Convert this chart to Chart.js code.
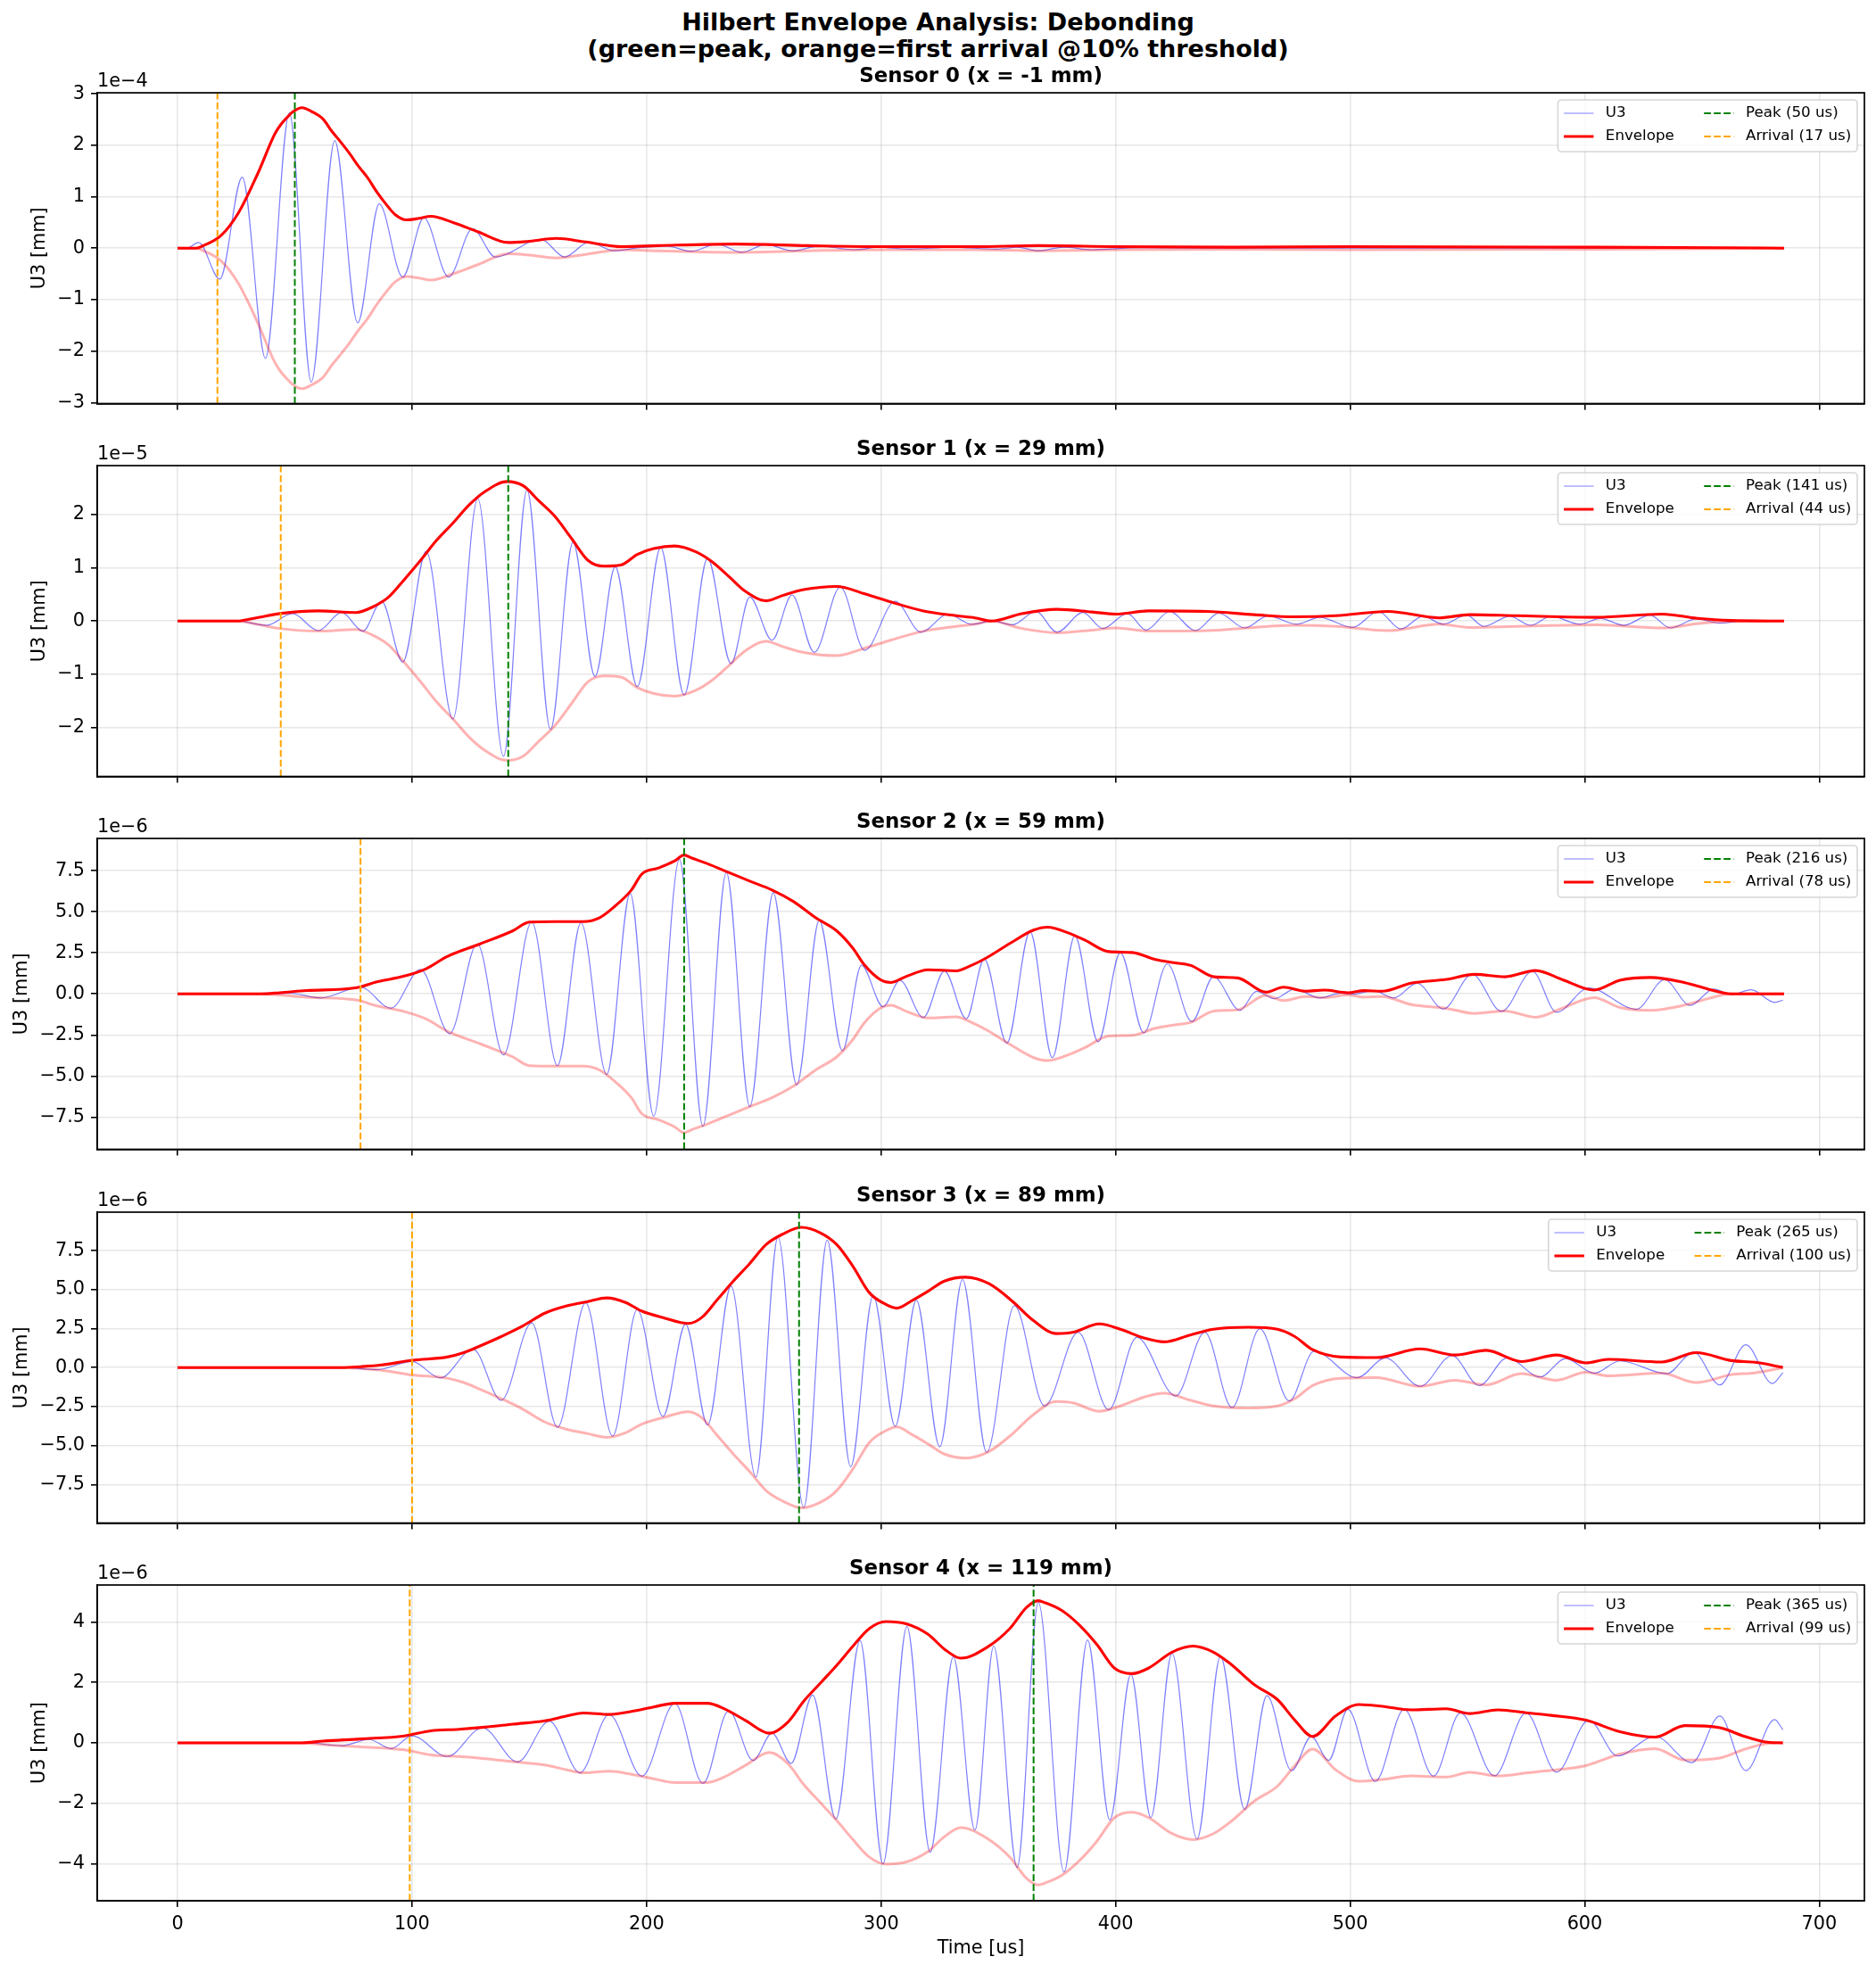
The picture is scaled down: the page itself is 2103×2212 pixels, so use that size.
<!DOCTYPE html>
<html>
<head>
<meta charset="utf-8">
<title>Hilbert Envelope Analysis: Debonding</title>
<script src="https://cdn.jsdelivr.net/npm/chart.js@4.4.1/dist/chart.umd.min.js"></script>
<style>
  html, body { margin: 0; padding: 0; background: #fff; }
  #fig { position: relative; width: 2103px; height: 2212px; overflow: hidden; background: #fff; }
  #suptitle {
    position: absolute; left: 0; top: 10px; width: 2103px; text-align: center;
    font-family: "DejaVu Sans", sans-serif; font-weight: bold; font-size: 27px; line-height: 30px; color: #000;
  }
  canvas { position: absolute; left: 0; }
</style>
</head>
<body>
<div id="fig">
  <div id="suptitle">Hilbert Envelope Analysis: Debonding<br>(green=peak, orange=first arrival @10% threshold)</div>
</div>
<script>
// ── Data (U3 in units of the axis offset) ──────────────────────────────

const xTicks = [0, 100, 200, 300, 400, 500, 600, 700];

const sensorNames  = ["Sensor 0 (x = -1 mm)", "Sensor 1 (x = 29 mm)", "Sensor 2 (x = 59 mm)",
                      "Sensor 3 (x = 89 mm)", "Sensor 4 (x = 119 mm)"];
const offsetTexts  = ["1e\u22124", "1e\u22125", "1e\u22126", "1e\u22126", "1e\u22126"];
const peakTimes    = [50, 141, 216, 265, 365];
const arrivalTimes = [17, 44, 78, 100, 99];
const yLimits      = [3.02, 2.92, 9.46, 9.97, 5.22];

const yTicks0 = [-3, -2, -1, 0, 1, 2, 3];
const yTicks1 = [-2, -1, 0, 1, 2];
const yTicks2 = [-7.5, -5, -2.5, 0, 2.5, 5, 7.5];
const yTicks3 = [-7.5, -5, -2.5, 0, 2.5, 5, 7.5];
const yTicks4 = [-4, -2, 0, 2, 4];
const yLabels0 = ["\u22123", "\u22122", "\u22121", "0", "1", "2", "3"];
const yLabels1 = ["\u22122", "\u22121", "0", "1", "2"];
const yLabels2 = ["\u22127.5", "\u22125.0", "\u22122.5", "0.0", "2.5", "5.0", "7.5"];
const yLabels3 = ["\u22127.5", "\u22125.0", "\u22122.5", "0.0", "2.5", "5.0", "7.5"];
const yLabels4 = ["\u22124", "\u22122", "0", "2", "4"];

// Sensor 0
const s0Time = [0, 4, 9, 18, 27.6, 37.5, 47.7, 57, 67, 76.8,
  86, 96, 105, 115.6, 125.8, 135.5, 155, 165, 175.5, 186,
  197, 208.7, 219, 230, 240.6, 250.8, 262, 273.7, 289, 299,
  312, 330, 349, 358, 367, 378, 390, 410, 440, 685];
const s0U3 = [0, 0, 0.11, -0.6, 1.38, -2.14, 2.63, -2.6, 2.09, -1.45,
  0.86, -0.56, 0.59, -0.56, 0.38, -0.17, 0.17, -0.17, 0.12, -0.05,
  0.01, 0.04, -0.06, 0.08, -0.08, 0.07, -0.05, 0.04, -0.03, 0.02,
  -0.02, 0.02, -0.02, 0.02, -0.05, 0.02, -0.03, 0.01, 0, 0];
const s0EnvTime = [0, 8, 11, 18.6, 26, 34, 41.6, 44, 46.7, 49.2,
  53, 57, 62, 65.8, 69.6, 73.5, 77, 81, 85, 88.8,
  92.6, 97.7, 103, 108, 118, 128, 141, 149, 161.5, 174,
  189.5, 205, 238, 268.6, 300, 340, 367, 400, 450, 500,
  600, 660, 685];
const s0Env = [0, 0, 0.05, 0.25, 0.69, 1.43, 2.23, 2.4, 2.54, 2.65,
  2.73, 2.66, 2.51, 2.27, 2.06, 1.83, 1.6, 1.37, 1.09, 0.86,
  0.66, 0.55, 0.58, 0.62, 0.49, 0.32, 0.11, 0.13, 0.19, 0.12,
  0.03, 0.05, 0.08, 0.05, 0.03, 0.03, 0.05, 0.03, 0.02, 0.03,
  0.02, 0.01, 0];

// Sensor 1
const s1Time = [0, 25, 38, 49, 60, 70, 79, 87, 96, 106,
  117.4, 128, 139, 149, 159, 168.6, 178, 186.6, 196, 206,
  216, 226, 236, 244, 253.5, 262, 271.5, 282.6, 293, 306,
  317, 328.5, 338.7, 347.4, 356, 366, 375, 386, 394.5, 405,
  413, 423, 434, 444, 455, 465, 477, 487, 501, 512,
  521.6, 531, 539.7, 549.6, 557, 568, 577, 585.6, 598, 606.7,
  616.6, 627.8, 636.5, 647.6, 657.6, 667.5, 685];
const s1U3 = [0, 0, -0.08, 0.14, -0.18, 0.16, -0.19, 0.37, -0.77, 1.31,
  -1.84, 2.3, -2.54, 2.46, -2.04, 1.48, -1.04, 1.02, -1.23, 1.38,
  -1.39, 1.18, -0.8, 0.45, -0.36, 0.49, -0.59, 0.64, -0.55, 0.37,
  -0.21, 0.13, -0.06, 0.0, -0.07, 0.18, -0.21, 0.16, -0.14, 0.14,
  -0.17, 0.18, -0.18, 0.15, -0.13, 0.10, -0.06, 0.07, -0.12, 0.18,
  -0.15, 0.09, -0.06, 0.11, -0.10, 0.09, -0.08, 0.09, -0.06, 0.05,
  -0.08, 0.11, -0.13, 0.04, -0.04, 0.0, 0];
const s1EnvTime = [0, 25, 27.5, 35, 43.6, 60, 76, 83, 90, 96.7,
  103.6, 110.5, 117.4, 124.3, 131, 140.5, 147.4, 154, 161, 168,
  175, 182, 189, 196, 203, 212, 221, 228, 235, 242,
  251, 258, 267, 281, 293, 304, 318, 332, 340, 347,
  360, 375, 390, 400, 414, 439, 459, 476, 494, 516,
  538, 551, 571, 605, 633, 648, 662, 685];
const s1Env = [0, 0, 0.01, 0.07, 0.14, 0.19, 0.16, 0.26, 0.45, 0.78,
  1.14, 1.52, 1.84, 2.18, 2.43, 2.62, 2.54, 2.26, 1.96, 1.55,
  1.14, 1.03, 1.05, 1.25, 1.36, 1.41, 1.3, 1.11, 0.84, 0.56,
  0.38, 0.48, 0.59, 0.65, 0.51, 0.36, 0.19, 0.1, 0.06, 0.0,
  0.14, 0.22, 0.17, 0.13, 0.19, 0.18, 0.12, 0.08, 0.1, 0.18,
  0.06, 0.12, 0.1, 0.07, 0.13, 0.05, 0.01, 0];

// Sensor 2
const s2Time = [0, 40, 48, 61, 78, 91, 103.6, 116, 127.8, 139,
  151, 162, 172, 183, 193, 203, 214, 224, 234, 244,
  254, 264, 273.6, 283.5, 291.6, 300.8, 308, 318, 327, 336.3,
  344, 353.6, 363.5, 373, 382.6, 392.5, 402, 412, 422, 432.5,
  441.7, 453, 460, 467.7, 476.4, 487, 496, 501, 510, 518.6,
  528.5, 539.7, 552, 564.5, 577.7, 588, 601.7, 622, 634, 645,
  655, 662.5, 671, 681, 684.5];
const s2U3 = [0, 0, 0.04, -0.25, 0.41, -0.87, 1.49, -2.42, 3.04, -3.71,
  4.37, -4.37, 4.33, -4.9, 6.11, -7.44, 8.19, -8.06, 7.39, -6.86,
  6.15, -5.54, 4.46, -3.45, 1.74, -0.78, 0.82, -1.44, 1.39, -1.52,
  2.12, -2.99, 3.79, -3.88, 3.53, -2.91, 2.5, -2.37, 1.82, -1.69,
  1.04, -1.0, 0.16, -0.29, 0.29, -0.25, 0.05, -0.02, 0.2, -0.25,
  0.65, -0.92, 1.19, -1.06, 1.37, -1.12, 0.36, -0.94, 0.86, -0.7,
  0.29, -0.04, 0.25, -0.52, -0.38];
const s2EnvTime = [0, 35, 43.6, 55, 76, 85, 96.7, 106, 115, 129,
  143, 150, 161, 173, 180, 186.6, 193.5, 198, 205, 212,
  216, 219, 226, 235, 244, 253.5, 262.7, 272, 281, 288,
  292.7, 299.6, 304, 311, 320, 332, 338, 345, 355, 365,
  371, 380, 387, 397, 407, 417, 424, 432, 442, 452,
  464, 471.5, 481, 489, 499, 506, 513.6, 526, 541, 553,
  566, 579, 590.6, 604, 615, 628, 642.7, 652.6, 662.5, 685];
const s2Env = [0, 0, 0.07, 0.2, 0.37, 0.73, 1.08, 1.53, 2.27, 3.04,
  3.84, 4.37, 4.4, 4.4, 4.64, 5.35, 6.32, 7.3, 7.66, 8.1,
  8.45, 8.28, 7.92, 7.39, 6.86, 6.32, 5.61, 4.64, 3.84, 2.77,
  1.79, 0.87, 0.69, 1.08, 1.47, 1.4, 1.7, 2.2, 3.08, 3.88,
  4.06, 3.7, 3.26, 2.57, 2.52, 2.09, 1.91, 1.73, 1.04, 0.97,
  0.1, 0.41, 0.16, 0.23, 0.07, 0.2, 0.16, 0.65, 0.88, 1.19,
  1.04, 1.42, 0.86, 0.23, 0.83, 1.0, 0.68, 0.29, 0.0, 0];

// Sensor 3
const s3Time = [0, 70, 85, 100, 112, 126, 138, 151, 162, 174,
  185.5, 196, 207, 216.6, 226, 236, 246.6, 256, 267, 277,
  287, 296.6, 306, 315, 325, 334.7, 345, 356.8, 369.7, 384,
  397, 409, 425.6, 438, 449.6, 461.5, 474, 484.6, 503, 515,
  529.8, 543.4, 555, 567, 581, 591.8, 604, 615, 635, 646.4,
  657.6, 668.7, 680, 684.5];
const s3U3 = [0, 0, -0.13, 0.39, -0.66, 1.18, -2.1, 2.87, -3.83, 4.15,
  -4.39, 3.71, -3.13, 2.78, -3.68, 5.23, -7.02, 8.37, -8.99, 8.18,
  -6.36, 4.62, -3.77, 4.33, -5.08, 5.65, -5.43, 3.97, -2.46, 2.27,
  -2.71, 1.94, -1.82, 2.27, -2.57, 2.5, -2.14, 1.05, -0.65, 0.62,
  -1.2, 0.77, -1.15, 0.62, -0.6, 0.58, -0.36, 0.43, -0.39, 1.0,
  -1.11, 1.47, -1.02, -0.32];
const s3EnvTime = [0, 70, 78, 87, 100, 115, 122, 129, 138, 147,
  156.6, 166, 175, 183, 191, 198, 207, 217.8, 223.5, 230,
  237, 244, 251, 258, 266, 274, 281, 288, 295, 302,
  306.6, 313.5, 320, 327, 336, 346, 356, 364.8, 374.7, 382,
  393, 402, 412, 420.6, 431.8, 441.7, 456.6, 469, 476.4, 484,
  496, 511, 529.8, 544.7, 558, 573, 588, 600.5, 610, 632.8,
  647.6, 662.5, 672.5, 684.5];
const s3Env = [0, 0, 0.06, 0.17, 0.47, 0.68, 0.96, 1.39, 1.99, 2.65,
  3.49, 3.96, 4.24, 4.47, 4.18, 3.62, 3.21, 2.83, 3.21, 4.33,
  5.55, 6.68, 7.9, 8.56, 9.0, 8.65, 7.9, 6.49, 4.8, 4.05,
  3.81, 4.33, 4.9, 5.55, 5.8, 5.38, 4.25, 3.03, 2.18, 2.27,
  2.8, 2.46, 1.9, 1.65, 2.09, 2.46, 2.59, 2.46, 1.99, 1.15,
  0.68, 0.64, 1.2, 0.81, 1.11, 0.39, 0.81, 0.3, 0.53, 0.36,
  0.96, 0.45, 0.34, 0.02];

// Sensor 4
const s4Time = [0, 55, 70, 81.7, 91, 100, 115, 130, 145, 158.5,
  171.6, 184, 198, 212, 224, 235, 245.4, 253.5, 261.6, 270.8,
  280.7, 291, 300.8, 311, 320.9, 330.8, 340, 348, 358, 367,
  378, 388, 397.5, 406.5, 415, 424, 434.7, 444.7, 455, 464.5,
  475, 483.4, 490.8, 499, 510.7, 523, 535.5, 547, 561.5, 575,
  588, 601.7, 614, 630, 645.7, 657.6, 668.7, 681, 684.5];
const s4U3 = [0, 0, -0.09, 0.11, -0.19, 0.23, -0.45, 0.5, -0.63, 0.72,
  -0.99, 0.94, -1.1, 1.31, -1.34, 1.06, -0.58, 0.32, -0.68, 1.58,
  -2.52, 3.39, -4.0, 3.85, -3.62, 2.85, -2.88, 3.2, -4.12, 4.65,
  -4.27, 3.4, -2.55, 2.27, -2.47, 2.96, -3.18, 2.86, -2.2, 1.56,
  -0.92, 0.21, -0.58, 1.11, -1.27, 1.11, -1.1, 0.99, -1.09, 0.99,
  -0.97, 0.75, -0.43, 0.22, -0.65, 0.89, -0.92, 0.77, 0.43];
const s4EnvTime = [0, 53, 62, 78, 96.7, 108, 120, 131, 143, 156.6,
  166, 173, 184, 193.5, 203, 212, 226, 232.8, 242, 252.4,
  260.4, 267, 274, 281, 288, 295, 302, 311, 320, 327,
  334, 345, 355, 362, 367, 370, 377, 384.6, 392, 399.5,
  407, 414, 424, 433, 441.7, 449, 459, 469, 476.4, 484,
  493.8, 503.7, 513.6, 526, 541, 551, 563, 575.7, 585.6, 600.5,
  615, 630, 642.7, 657.6, 667.5, 677, 684.5];
const s4Env = [0, 0, 0.06, 0.13, 0.23, 0.4, 0.45, 0.52, 0.62, 0.73,
  0.89, 0.99, 0.94, 1.04, 1.19, 1.31, 1.31, 1.14, 0.75, 0.32,
  0.7, 1.38, 1.97, 2.56, 3.2, 3.78, 4.01, 3.93, 3.59, 3.1,
  2.8, 3.15, 3.79, 4.48, 4.7, 4.63, 4.38, 3.89, 3.25, 2.47,
  2.29, 2.47, 3.0, 3.2, 3.0, 2.61, 1.93, 1.43, 0.75, 0.21,
  0.89, 1.27, 1.21, 1.09, 1.13, 0.97, 1.09, 0.99, 0.91, 0.75,
  0.37, 0.19, 0.57, 0.5, 0.23, 0.03, 0];

const sensors = [
  { time: s0Time, u3: s0U3, envTime: s0EnvTime, env: s0Env, yTicks: yTicks0, yLabels: yLabels0 },
  { time: s1Time, u3: s1U3, envTime: s1EnvTime, env: s1Env, yTicks: yTicks1, yLabels: yLabels1 },
  { time: s2Time, u3: s2U3, envTime: s2EnvTime, env: s2Env, yTicks: yTicks2, yLabels: yLabels2 },
  { time: s3Time, u3: s3U3, envTime: s3EnvTime, env: s3Env, yTicks: yTicks3, yLabels: yLabels3 },
  { time: s4Time, u3: s4U3, envTime: s4EnvTime, env: s4Env, yTicks: yTicks4, yLabels: yLabels4 },
];

// ── Layout (figure pixels) ─────────────────────────────────

const FIG_W    = 2103;
const AX_LEFT  = 109;
const AX_RIGHT = 2090;
const AX_H     = 354;
const AX_TOPS  = [104, 522, 940, 1359, 1777];
const HEAD     = 60;          // canvas space above each axes box
const FONT     = '"DejaVu Sans", sans-serif';
const TICK_FS  = 20.8;
const LEG_FS   = 16.7;

const U3_CLR    = "rgba(0,0,255,0.5)";
const ENV_CLR   = "#ff0000";
const ENV_LO    = "rgba(255,0,0,0.3)";
const PEAK_CLR  = "#008000";
const ARR_CLR   = "#ffa500";
const DASH      = [7.7, 3.3];

const zip = (xs, ys) => xs.map((x, k) => ({ x, y: ys[k] }));

// ── Axes decorations: frame, titles, offset text, legend ────

const decorations = {
  id: "decorations",
  afterDraw(chart, args, opts) {
    const i = opts.index;
    const { ctx, chartArea: a } = chart;
    const s = sensors[i];
    ctx.save();

    // frame (spines)
    ctx.strokeStyle = "#000";
    ctx.lineWidth = 1.7;
    ctx.strokeRect(a.left, a.top, a.right - a.left, a.bottom - a.top);

    ctx.fillStyle = "#000";
    // subplot title
    ctx.font = `bold 22.9px ${FONT}`;
    ctx.textAlign = "center";
    ctx.textBaseline = "alphabetic";
    ctx.fillText(sensorNames[i], (a.left + a.right) / 2, a.top - 12.5);

    // scientific offset
    ctx.font = `${TICK_FS}px ${FONT}`;
    ctx.textAlign = "left";
    ctx.fillText(offsetTexts[i], a.left, a.top - 7);

    // y label, left of the widest tick label
    let maxW = 0;
    s.yLabels.forEach(l => { maxW = Math.max(maxW, ctx.measureText(l).width); });
    const yLabX = a.left - 14 - maxW - 20;
    ctx.save();
    ctx.translate(yLabX, (a.top + a.bottom) / 2);
    ctx.rotate(-Math.PI / 2);
    ctx.textAlign = "center";
    ctx.textBaseline = "middle";
    ctx.fillText("U3 [mm]", 0, 0);
    ctx.restore();

    // x label on the bottom panel
    if (i === sensors.length - 1) {
      ctx.textAlign = "center";
      ctx.textBaseline = "middle";
      ctx.fillText("Time [us]", (a.left + a.right) / 2, a.bottom + 54);
    }

    // legend (2 columns, upper right)
    ctx.font = `${LEG_FS}px ${FONT}`;
    const col1 = ["U3", "Envelope"];
    const col2 = [`Peak (${peakTimes[i]} us)`, `Arrival (${arrivalTimes[i]} us)`];
    const w1 = Math.max(...col1.map(t => ctx.measureText(t).width));
    const w2 = Math.max(...col2.map(t => ctx.measureText(t).width));
    const pad = 0.4 * LEG_FS, hLen = 2 * LEG_FS, tPad = 0.8 * LEG_FS, cSp = 2 * LEG_FS;
    const boxR = a.right - 8, boxT = a.top + 8, boxH = 58;
    const t2x = boxR - pad - w2;
    const h2x = t2x - tPad - hLen;
    const t1x = h2x - cSp - w1;
    const h1x = t1x - tPad - hLen;
    const boxL = h1x - pad;

    ctx.beginPath();
    ctx.roundRect(boxL, boxT, boxR - boxL, boxH, 4);
    ctx.fillStyle = "rgba(255,255,255,0.8)";
    ctx.fill();
    ctx.strokeStyle = "rgba(204,204,204,0.8)";
    ctx.lineWidth = 1.6;
    ctx.stroke();

    const rows = [boxT + 15, boxT + 41];
    const handles = [
      [h1x, rows[0], U3_CLR, 1.2, []],
      [h1x, rows[1], ENV_CLR, 3.1, []],
      [h2x, rows[0], PEAK_CLR, 2, DASH],
      [h2x, rows[1], ARR_CLR, 2, DASH],
    ];
    handles.forEach(([hx, hy, c, lw, d]) => {
      ctx.beginPath();
      ctx.setLineDash(d);
      ctx.strokeStyle = c;
      ctx.lineWidth = lw;
      ctx.moveTo(hx, hy);
      ctx.lineTo(hx + hLen, hy);
      ctx.stroke();
    });
    ctx.setLineDash([]);
    ctx.fillStyle = "#000";
    ctx.textAlign = "left";
    ctx.textBaseline = "middle";
    ctx.fillText(col1[0], t1x, rows[0]);
    ctx.fillText(col1[1], t1x, rows[1]);
    ctx.fillText(col2[0], t2x, rows[0]);
    ctx.fillText(col2[1], t2x, rows[1]);

    ctx.restore();
  }
};

// ── Build one chart per sensor ─────────────────────────────

function buildPanel(i) {
  const s = sensors[i];
  const last = i === sensors.length - 1;
  const bottomSpace = last ? 2212 - (AX_TOPS[i] + AX_H) : 14;
  const H = HEAD + AX_H + bottomSpace;
  const ylim = yLimits[i];

  const canvas = document.createElement("canvas");
  canvas.width = FIG_W;
  canvas.height = H;
  canvas.style.width = FIG_W + "px";
  canvas.style.height = H + "px";
  canvas.style.top = (AX_TOPS[i] - HEAD) + "px";
  document.getElementById("fig").appendChild(canvas);

  const line = (data, color, width, order, extra = {}) => Object.assign({
    data, borderColor: color, borderWidth: width, pointRadius: 0,
    fill: false, order, cubicInterpolationMode: "monotone",
  }, extra);

  new Chart(canvas.getContext("2d"), {
    type: "line",
    data: {
      datasets: [
        line(zip(s.time, s.u3), U3_CLR, 1.2, 5),
        line(zip(s.envTime, s.env.map(v => -v)), ENV_LO, 3, 4),
        line(zip(s.envTime, s.env), ENV_CLR, 3.1, 3),
        line([{ x: peakTimes[i], y: -ylim }, { x: peakTimes[i], y: ylim }], PEAK_CLR, 2, 2,
             { borderDash: DASH, cubicInterpolationMode: "default" }),
        line([{ x: arrivalTimes[i], y: -ylim }, { x: arrivalTimes[i], y: ylim }], ARR_CLR, 2, 1,
             { borderDash: DASH, cubicInterpolationMode: "default" }),
      ],
    },
    options: {
      responsive: false,
      animation: false,
      devicePixelRatio: 1,
      layout: { padding: { top: HEAD, left: 0, right: FIG_W - AX_RIGHT, bottom: 0 } },
      plugins: {
        legend: { display: false },
        tooltip: { enabled: false },
        decorations: { index: i },
      },
      scales: {
        x: {
          type: "linear",
          min: -34.25,
          max: 719.25,
          afterBuildTicks: sc => { sc.ticks = xTicks.map(v => ({ value: v })); },
          afterFit: sc => { sc.height = H - HEAD - AX_H; },
          ticks: {
            autoSkip: false, maxRotation: 0, padding: 7, color: "#000",
            font: { family: FONT, size: TICK_FS },
            callback: (v, k) => (last ? String(xTicks[k]) : ""),
          },
          grid: {
            color: "rgba(176,176,176,0.3)", lineWidth: 1.6,
            drawTicks: true, tickLength: 7, tickColor: "#000", tickWidth: 1.6,
          },
          border: { display: true, color: "#000", width: 1.7 },
        },
        y: {
          type: "linear",
          min: -ylim,
          max: ylim,
          afterBuildTicks: sc => { sc.ticks = s.yTicks.map(v => ({ value: v })); },
          afterFit: sc => { sc.width = AX_LEFT; },
          ticks: {
            autoSkip: false, padding: 7, color: "#000",
            font: { family: FONT, size: TICK_FS },
            callback: (v, k) => s.yLabels[k],
          },
          grid: {
            color: "rgba(176,176,176,0.3)", lineWidth: 1.6,
            drawTicks: true, tickLength: 7, tickColor: "#000", tickWidth: 1.6,
          },
          border: { display: true, color: "#000", width: 1.7 },
        },
      },
    },
    plugins: [decorations],
  });
}

sensors.forEach((_, i) => buildPanel(i));
</script>
</body>
</html>
